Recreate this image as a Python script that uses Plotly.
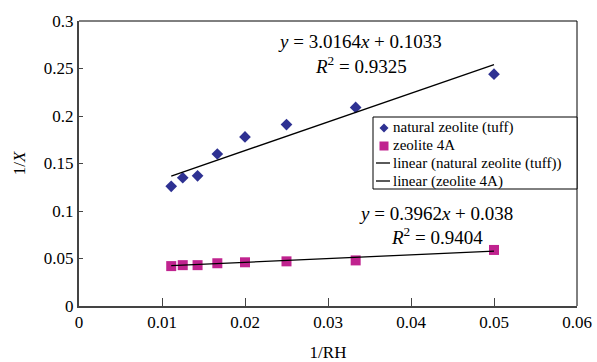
import plotly.graph_objects as go

inv_rh = [1/90, 1/80, 1/70, 1/60, 1/50, 1/40, 1/30, 1/20]
tuff = [0.126, 0.135, 0.137, 0.160, 0.178, 0.191, 0.209, 0.244]
z4a = [0.042, 0.043, 0.043, 0.045, 0.046, 0.047, 0.048, 0.059]
fit_tuff = (3.0164, 0.1033)
fit_4a = (0.3962, 0.038)
x_ticks = [0, 0.01, 0.02, 0.03, 0.04, 0.05, 0.06]
x_tick_text = ["0", "0.01", "0.02", "0.03", "0.04", "0.05", "0.06"]
y_ticks = [0, 0.05, 0.1, 0.15, 0.2, 0.25, 0.3]
y_tick_text = ["0", "0.05", "0.1", "0.15", "0.2", "0.25", "0.3"]
legend_names = ["natural zeolite (tuff)", "zeolite 4A",
                "linear (natural zeolite (tuff))", "linear (zeolite 4A)"]

FONT = "Liberation Serif"
BLUE = "#2E3192"
MAG = "#C0238F"
xs = [min(inv_rh), max(inv_rh)]

# plot-area geometry (pixels) used for the hand-built legend
L, R, T, B = 79, 577, 21, 306
W, H = R - L, B - T
def px(x): return (x - L) / W
def py(y): return (B - y) / H

fig = go.Figure()
fig.add_trace(go.Scatter(x=inv_rh, y=tuff, mode="markers", name=legend_names[0],
                         marker=dict(symbol="diamond", size=9, color=BLUE), showlegend=False))
fig.add_trace(go.Scatter(x=inv_rh, y=z4a, mode="markers", name=legend_names[1],
                         marker=dict(symbol="square", size=10, color=MAG), showlegend=False))
fig.add_trace(go.Scatter(x=xs, y=[fit_tuff[0]*x + fit_tuff[1] for x in xs], mode="lines",
                         name=legend_names[2], line=dict(color="black", width=1.3), showlegend=False))
fig.add_trace(go.Scatter(x=xs, y=[fit_4a[0]*x + fit_4a[1] for x in xs], mode="lines",
                         name=legend_names[3], line=dict(color="black", width=1.3), showlegend=False))

eqf = dict(size=19, family=FONT, color="black")
fig.add_annotation(x=0.0339, y=0.2785, xref="x", yref="y", showarrow=False,
                   text="<i>y</i> = %.4f<i>x</i> + %.4f" % fit_tuff, font=eqf)
fig.add_annotation(x=0.0340, y=0.2540, xref="x", yref="y", showarrow=False,
                   text="<i>R</i><sup>2</sup> = 0.9325", font=eqf)
fig.add_annotation(x=0.0430, y=0.0978, xref="x", yref="y", showarrow=False,
                   text="<i>y</i> = %.4f<i>x</i> + %.3f" % fit_4a, font=eqf)
fig.add_annotation(x=0.0431, y=0.0735, xref="x", yref="y", showarrow=False,
                   text="<i>R</i><sup>2</sup> = 0.9404", font=eqf)

# top/right frame
fig.add_shape(type="line", xref="paper", yref="paper", x0=0, x1=1, y0=1, y1=1, line=dict(color="black", width=1))
fig.add_shape(type="line", xref="paper", yref="paper", x0=1, x1=1, y0=0, y1=1, line=dict(color="black", width=1))

# legend box
fig.add_shape(type="rect", xref="paper", yref="paper", x0=px(373), x1=px(577), y0=py(189), y1=py(117),
              line=dict(color="black", width=1), fillcolor="white", layer="above")
rows = [127, 145, 163, 181]
d = 4.5
fig.add_shape(type="path", xref="paper", yref="paper",
              path="M %f,%f L %f,%f L %f,%f L %f,%f Z" % (px(384), py(128 - d), px(384 + d), py(128),
                                                          px(384), py(128 + d), px(384 - d), py(128)),
              fillcolor=BLUE, line=dict(width=0), layer="above")
fig.add_shape(type="rect", xref="paper", yref="paper", x0=px(379.5), x1=px(388.5), y0=py(150.5), y1=py(141.5),
              fillcolor=MAG, line=dict(width=0), layer="above")
for r in rows[2:]:
    fig.add_shape(type="line", xref="paper", yref="paper", x0=px(376), x1=px(390), y0=py(r), y1=py(r),
                  line=dict(color="black", width=1.3), layer="above")
for name, r in zip(legend_names, rows):
    fig.add_annotation(x=px(391), y=py(r), xref="paper", yref="paper", xanchor="left", yanchor="middle",
                       showarrow=False, text=name, font=dict(size=15, family=FONT, color="black"))

fig.update_layout(
    width=597, height=362,
    margin=dict(l=L, r=597 - R, t=T, b=362 - B),
    paper_bgcolor="white", plot_bgcolor="white",
    font=dict(family=FONT, size=17, color="black"),
    showlegend=False,
    xaxis=dict(range=[0, 0.06], tickvals=x_ticks, ticktext=x_tick_text, automargin=False,
               showgrid=False, zeroline=False, showline=True, linecolor="#444", linewidth=2,
               ticks="inside", ticklen=8, tickcolor="#444", tickwidth=1,
               tickfont=dict(size=17),
               title=dict(text="1/RH", font=dict(size=17), standoff=16)),
    yaxis=dict(range=[0, 0.3], tickvals=y_ticks, ticktext=y_tick_text, automargin=False,
               showgrid=False, zeroline=False, showline=True, linecolor="#444", linewidth=2,
               ticks="inside", ticklen=4, tickcolor="#444", tickwidth=1,
               tickfont=dict(size=17),
               title=dict(text="1/<i>X</i>", font=dict(size=17), standoff=14)),
)

fig.write_html("out.html")
